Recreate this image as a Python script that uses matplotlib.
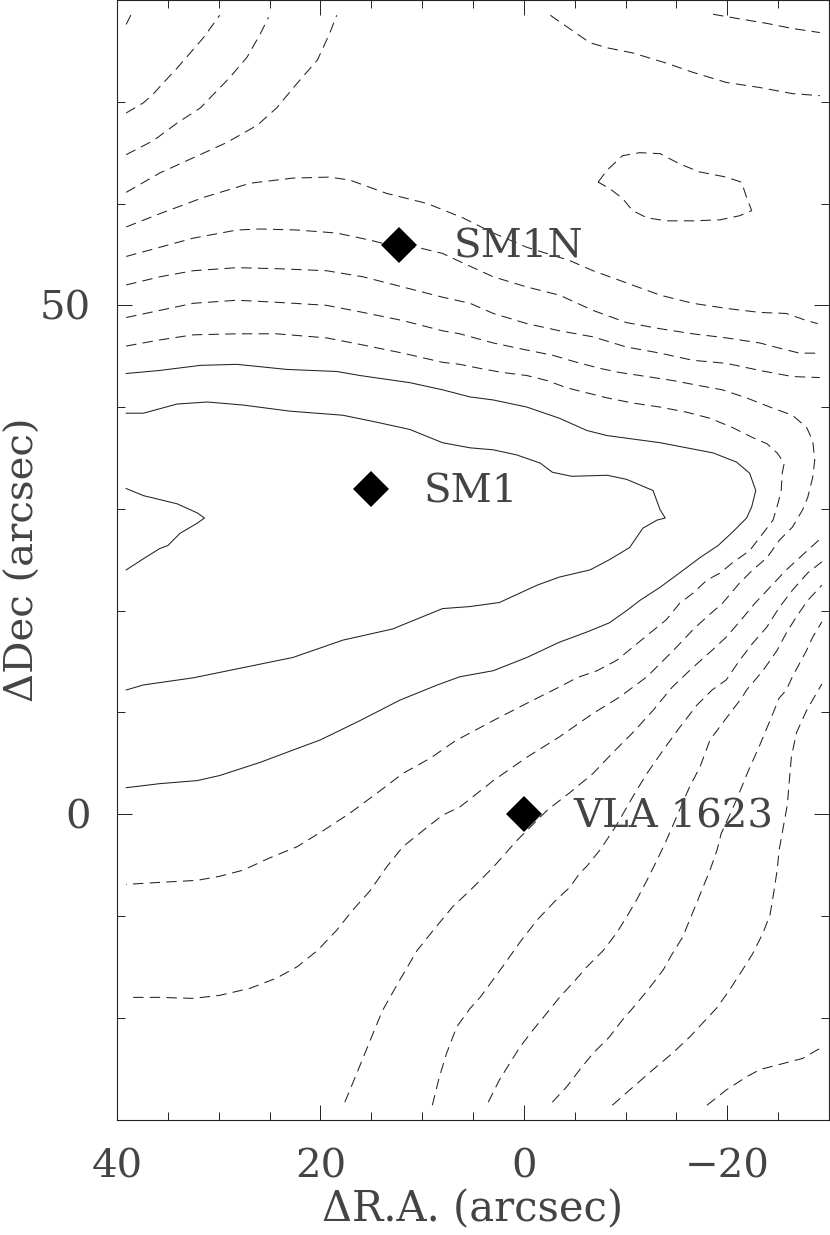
import matplotlib.pyplot as plt
from matplotlib.ticker import MultipleLocator

# contour paths, (dRA, dDec) in arcsec
# dashed (negative) levels, top of the map
cA = [(39.1, 77.6), (38.8, 78.2), (38.5, 78.8)]
cB = [(39.1, 68.9), (37.4, 69.9), (36.4, 70.8), (35.5, 71.8), (34.1, 73.3),
      (32.8, 74.8), (31.5, 76.3), (29.9, 78.5)]
cC = [(39.1, 64.8), (36.4, 66.2), (34.1, 67.9), (31.8, 69.4), (28.9, 72.4),
      (27.2, 74.4), (25.9, 76.7), (25.1, 78.3)]
cD = [(39.1, 61.1), (35.8, 63.0), (32.5, 64.5), (29.2, 66.0), (26.2, 67.7),
      (24.3, 69.4), (22.3, 71.8), (20.3, 74.1), (19.1, 76.7), (18.4, 78.5)]
cD2 = [(-2.6, 78.5), (-5.2, 76.7), (-6.5, 75.8), (-8.2, 75.3), (-10.7, 74.8),
       (-14.0, 73.8), (-16.6, 72.9), (-19.9, 71.9), (-23.2, 71.4), (-26.4, 70.8),
       (-29.1, 70.6)]
cE = [(-18.6, 78.6), (-20.9, 78.2), (-23.9, 77.7), (-26.4, 77.2), (-29.1, 76.8)]
cOval = [(-7.3, 62.1), (-8.2, 63.3), (-9.7, 64.7), (-11.4, 65.0), (-13.4, 64.9),
         (-15.3, 63.9), (-17.3, 63.1), (-19.9, 62.6), (-21.4, 62.1), (-21.9, 60.6),
         (-22.4, 59.3), (-21.2, 58.8), (-19.3, 58.4), (-16.6, 58.3), (-14.0, 58.3),
         (-12.1, 58.6), (-10.7, 59.3), (-9.7, 60.5), (-8.4, 61.5), (-7.3, 62.1)]
cF = [(39.1, 57.7), (35.8, 59.0), (31.5, 60.6), (26.9, 62.0), (22.7, 62.5),
      (19.1, 62.6), (17.1, 62.3), (13.5, 61.0), (9.5, 60.0), (6.0, 58.6),
      (3.0, 57.1), (-0.3, 55.7), (-4.5, 54.4), (-6.8, 53.4), (-10.1, 52.2),
      (-13.4, 51.0), (-16.6, 50.2), (-19.9, 49.7), (-23.2, 49.3), (-25.8, 49.2),
      (-27.8, 48.5), (-28.9, 48.2)]
cG = [(39.1, 54.8), (35.8, 55.7), (32.5, 56.6), (28.2, 57.4), (25.9, 57.5),
      (22.3, 57.4), (18.4, 57.1), (15.1, 56.4), (13.5, 56.0), (10.5, 55.7),
      (8.0, 55.1), (6.3, 54.3), (3.0, 52.8), (-0.3, 51.8), (-3.5, 51.0),
      (-6.8, 49.5), (-10.1, 48.3), (-13.4, 47.7), (-16.6, 47.2), (-19.9, 46.8),
      (-23.2, 46.3), (-25.1, 45.8), (-27.1, 45.3), (-29.1, 45.3)]
cH = [(39.1, 52.0), (35.8, 52.8), (32.5, 53.4), (28.2, 53.7), (24.3, 53.6),
      (19.4, 53.4), (15.8, 52.8), (11.9, 51.8), (8.0, 50.8), (5.3, 50.2),
      (3.0, 49.2), (-0.3, 48.2), (-3.5, 47.5), (-6.8, 46.9), (-10.1, 45.9),
      (-13.4, 45.3), (-16.6, 44.6), (-19.9, 44.3), (-23.2, 43.6), (-26.4, 43.0),
      (-29.1, 42.9)]
# dashed, open to the left, wrapping round the ridge
cIQ = [(39.1, 48.8), (35.8, 49.5), (32.5, 50.2), (28.2, 50.5), (24.3, 50.3),
       (19.4, 50.0), (15.8, 49.3), (11.9, 48.5), (8.0, 47.5), (6.3, 47.2),
       (3.0, 46.3), (-0.3, 45.6), (-2.8, 45.1), (-5.2, 44.4), (-7.5, 43.8),
       (-9.4, 43.4), (-12.1, 43.0), (-14.7, 42.6), (-17.3, 42.1), (-19.5, 41.7),
       (-21.9, 40.9), (-24.2, 40.0), (-26.4, 39.2), (-27.8, 38.0), (-28.4, 36.7),
       (-28.6, 34.8), (-28.4, 33.1), (-27.9, 31.1), (-27.4, 29.9), (-26.4, 28.2),
       (-25.1, 26.9), (-23.9, 25.2), (-22.5, 24.0), (-21.2, 22.7), (-19.5, 20.7),
       (-18.0, 19.4), (-16.6, 18.1), (-15.0, 16.4), (-13.4, 14.8), (-12.1, 13.5),
       (-9.4, 11.5), (-6.8, 9.9), (-3.5, 7.6), (-0.3, 5.6), (3.0, 3.3),
       (6.3, 0.7), (8.0, -0.1), (9.9, -1.6), (11.9, -3.2), (13.5, -5.2),
       (15.1, -7.5), (16.8, -9.4), (18.4, -11.4), (20.3, -13.4), (22.3, -15.0),
       (24.3, -16.1), (26.9, -17.1), (29.9, -17.8), (32.5, -18.1), (35.8, -18.0),
       (38.9, -18.0)]
cJP = [(39.1, 46.0), (35.8, 46.6), (32.5, 47.1), (28.2, 47.2), (24.3, 47.2),
       (19.4, 46.8), (15.8, 46.1), (11.9, 45.3), (8.0, 44.4), (6.3, 44.2),
       (4.3, 43.8), (2.1, 43.4), (-0.3, 43.1), (-2.3, 42.6), (-4.2, 41.9),
       (-6.2, 41.4), (-8.2, 40.9), (-10.7, 40.4), (-13.4, 40.0), (-16.0, 39.5),
       (-18.3, 38.9), (-20.5, 38.0), (-22.5, 37.0), (-23.9, 36.4), (-24.9, 35.5),
       (-25.6, 34.5), (-25.4, 33.5), (-25.3, 31.8), (-25.0, 30.6), (-24.5, 28.9),
       (-23.2, 27.2), (-22.2, 25.9), (-20.5, 24.7), (-19.3, 23.7), (-18.0, 23.0),
       (-16.6, 21.7), (-15.3, 20.7), (-14.0, 19.1), (-12.4, 17.8), (-10.7, 16.4),
       (-9.1, 15.1), (-7.2, 14.1), (-5.2, 13.4), (-3.5, 12.5), (-0.3, 10.9),
       (3.0, 9.2), (6.0, 7.6), (6.6, 7.3), (9.2, 5.5), (11.9, 4.0),
       (14.4, 2.1), (17.1, 0.1), (19.7, -1.6), (22.3, -3.2), (25.0, -4.3),
       (27.6, -5.5), (29.9, -6.1), (32.1, -6.5), (35.8, -6.7), (39.1, -6.9)]
# solid (positive) levels
cKO = [(39.1, 43.3), (35.8, 43.6), (31.8, 44.1), (28.2, 44.2), (23.3, 43.7),
       (18.4, 43.5), (16.1, 43.1), (11.2, 42.4), (8.0, 41.7), (5.3, 41.0),
       (3.0, 40.7), (-0.3, 40.0), (-3.5, 38.9), (-6.2, 37.7), (-8.2, 37.2),
       (-13.4, 36.5), (-18.6, 35.5), (-20.9, 34.6), (-22.2, 33.5), (-22.8, 31.8),
       (-22.4, 30.2), (-21.9, 29.1), (-20.5, 27.7), (-19.1, 26.4), (-17.3, 25.2),
       (-15.3, 23.7), (-13.4, 22.3), (-11.4, 21.0), (-10.1, 20.0), (-8.4, 18.8),
       (-6.2, 17.9), (-3.5, 16.9), (-0.3, 15.4), (3.0, 14.1), (6.3, 13.5),
       (8.5, 12.7), (12.2, 11.2), (16.1, 9.2), (20.0, 7.3), (22.7, 6.3),
       (25.9, 5.1), (29.9, 3.8), (32.1, 3.3), (35.8, 3.0), (39.1, 2.6)]
cLN = [(39.1, 39.4), (37.4, 39.4), (34.1, 40.3), (31.1, 40.5), (27.6, 40.2),
       (23.0, 39.6), (17.8, 39.2), (14.4, 38.5), (11.2, 37.8), (8.0, 36.5),
       (5.3, 36.0), (3.0, 35.8), (0.7, 35.3), (-1.6, 34.5), (-2.8, 33.6),
       (-4.7, 33.2), (-8.2, 33.3), (-10.1, 32.9), (-12.7, 31.8), (-13.4, 29.9),
       (-13.9, 29.1), (-13.1, 28.9), (-11.7, 28.1), (-10.4, 26.2), (-8.4, 25.0),
       (-6.5, 24.0), (-3.5, 23.3), (-1.3, 22.5), (2.4, 20.8), (5.3, 20.4),
       (8.0, 20.2), (12.9, 18.2), (17.8, 17.1), (22.7, 15.4), (27.6, 14.4),
       (32.5, 13.4), (37.4, 12.7), (39.1, 12.2)]
cM = [(39.1, 32.0), (37.4, 31.3), (34.1, 30.5), (32.1, 29.6), (31.4, 29.1),
      (32.1, 28.6), (33.8, 27.6), (35.0, 26.4), (35.8, 26.1), (37.4, 25.1),
      (39.1, 24.0)]
# dashed, lower right: from the bottom edge up to the right edge
cR = [(17.6, -28.3), (16.4, -25.4), (15.1, -22.2), (13.9, -19.3), (12.2, -16.3),
      (10.5, -13.4), (8.9, -11.4), (7.0, -9.1), (5.3, -7.5), (3.0, -5.2),
      (0.7, -2.6), (-0.8, -1.1), (-2.3, 0.4), (-4.5, 2.1), (-6.8, 4.0),
      (-8.7, 6.0), (-10.7, 8.0), (-12.7, 10.2), (-14.6, 12.5), (-16.6, 14.4),
      (-18.5, 16.1), (-19.9, 17.4), (-21.2, 18.9), (-22.7, 20.7), (-24.2, 22.3),
      (-25.8, 24.0), (-27.1, 25.2), (-29.3, 27.2)]
cS = [(9.0, -28.6), (8.3, -25.8), (7.6, -23.5), (6.6, -20.9), (5.3, -19.1),
      (4.3, -18.0), (2.1, -15.0), (0.4, -12.6), (-1.3, -10.4), (-3.2, -8.4),
      (-4.5, -7.2), (-5.5, -5.8), (-6.2, -5.1), (-7.5, -3.5), (-9.1, -1.1),
      (-10.7, 1.7), (-12.1, 4.0), (-13.7, 6.3), (-15.3, 8.5), (-17.0, 10.7),
      (-18.5, 12.2), (-19.9, 13.2), (-21.2, 15.1), (-22.5, 16.8), (-23.9, 18.4),
      (-25.1, 20.3), (-26.4, 22.0), (-27.9, 23.7), (-29.3, 24.8)]
cU = [(3.5, -28.3), (2.4, -26.1), (1.4, -24.5), (0.4, -22.9), (-0.9, -21.2),
      (-2.3, -19.5), (-3.5, -18.0), (-4.8, -16.6), (-6.2, -15.0), (-7.8, -13.4),
      (-9.1, -11.7), (-10.1, -10.1), (-11.1, -8.4), (-12.1, -6.5), (-13.1, -4.5),
      (-14.0, -2.6), (-15.0, -0.3), (-16.3, 2.7), (-17.3, 4.6), (-18.3, 7.3),
      (-19.8, 9.3), (-21.4, 11.4), (-21.9, 12.2), (-23.5, 14.1), (-24.9, 16.1),
      (-25.8, 17.8), (-26.8, 19.4), (-27.9, 21.0), (-29.3, 22.5)]
cV = [(-2.8, -28.3), (-4.2, -26.8), (-5.5, -25.1), (-6.8, -23.5), (-8.4, -21.9),
      (-9.7, -20.2), (-11.1, -18.6), (-12.4, -17.0), (-13.7, -15.3), (-14.6, -13.7),
      (-15.6, -12.1), (-16.3, -10.4), (-17.0, -8.7), (-17.6, -7.2), (-18.3, -5.5),
      (-19.0, -3.5), (-19.4, -1.9), (-20.0, -0.6), (-20.9, 1.4), (-22.0, 4.1),
      (-23.2, 6.8), (-24.2, 9.2), (-25.1, 11.4), (-25.8, 12.2), (-26.4, 13.5),
      (-27.1, 14.8), (-27.8, 16.1), (-28.4, 17.4), (-29.3, 18.9)]
cW = [(-8.7, -28.6), (-10.4, -27.1), (-12.7, -25.1), (-14.6, -23.5), (-16.3, -21.9),
      (-17.6, -20.5), (-19.0, -19.0), (-20.2, -17.3), (-21.5, -15.3), (-22.5, -13.7),
      (-23.5, -11.7), (-24.2, -9.9), (-24.6, -7.5), (-24.9, -5.5), (-25.1, -3.5),
      (-25.5, -1.3), (-25.9, 0.9), (-26.1, 3.3), (-26.3, 5.6), (-26.8, 8.0),
      (-27.8, 10.2), (-29.3, 12.8)]
cT = [(-18.0, -28.6), (-19.9, -27.1), (-21.9, -25.8), (-23.2, -25.1), (-25.1, -24.6),
      (-27.4, -24.0), (-29.3, -22.9)]

SOLID = [cKO, cLN, cM]
DASHED = [cA, cB, cC, cD, cD2, cE, cOval, cF, cG, cH, cIQ, cJP,
          cR, cS, cU, cV, cW, cT]

# sources and where their names sit
src_names = ["SM1N", "SM1", "VLA 1623"]
src_ra = [12.3, 15.0, 0.0]
src_dec = [55.9, 32.0, 0.0]
lab_ra = [6.9, 9.9, -4.9]
lab_dec = [54.7, 30.6, -1.3]

INK = "#222222"
TXT = "#444444"
plt.rcParams["font.family"] = "DejaVu Serif"
plt.rcParams["font.size"] = 29

fig = plt.figure(figsize = (8.3, 12.35), dpi = 100)
ax = fig.add_axes([117 / 830, 115.5 / 1235, 712 / 830, 1119.5 / 1235])

for path in DASHED:
    xs, ys = zip(*path)
    ax.plot(xs, ys, color = INK, lw = 0.75, linestyle = (0, (10, 6)))
for path in SOLID:
    xs, ys = zip(*path)
    ax.plot(xs, ys, color = INK, lw = 0.75)

ax.plot(src_ra, src_dec, "D", color = "black", ms = 18, mew = 0, zorder = 5)
for name, x, y in zip(src_names, lab_ra, lab_dec):
    ax.text(x, y, name, ha = "left", va = "baseline", color = TXT)

ax.set_xlim(40, -30)
ax.set_ylim(-30, 80)
ax.xaxis.set_major_locator(MultipleLocator(20))
ax.xaxis.set_minor_locator(MultipleLocator(5))
ax.yaxis.set_major_locator(MultipleLocator(50))
ax.yaxis.set_minor_locator(MultipleLocator(10))
ax.tick_params(which = "both", direction = "in", top = True, right = True,
               color = INK, width = 0.7, labelcolor = TXT)
ax.tick_params(which = "major", length = 11)
ax.tick_params(which = "minor", length = 5.8)
ax.tick_params(axis = "x", pad = 21)
ax.tick_params(axis = "y", pad = 19)
for s in ax.spines.values():
    s.set_color(INK); s.set_linewidth(0.8)

ax.set_xlabel("ΔR.A. (arcsec)", labelpad = 2, color = TXT, fontsize = 30)
ax.set_ylabel("ΔDec (arcsec)", labelpad = -2, color = TXT, fontsize = 29)

fig.savefig("out.png", dpi = 100)
